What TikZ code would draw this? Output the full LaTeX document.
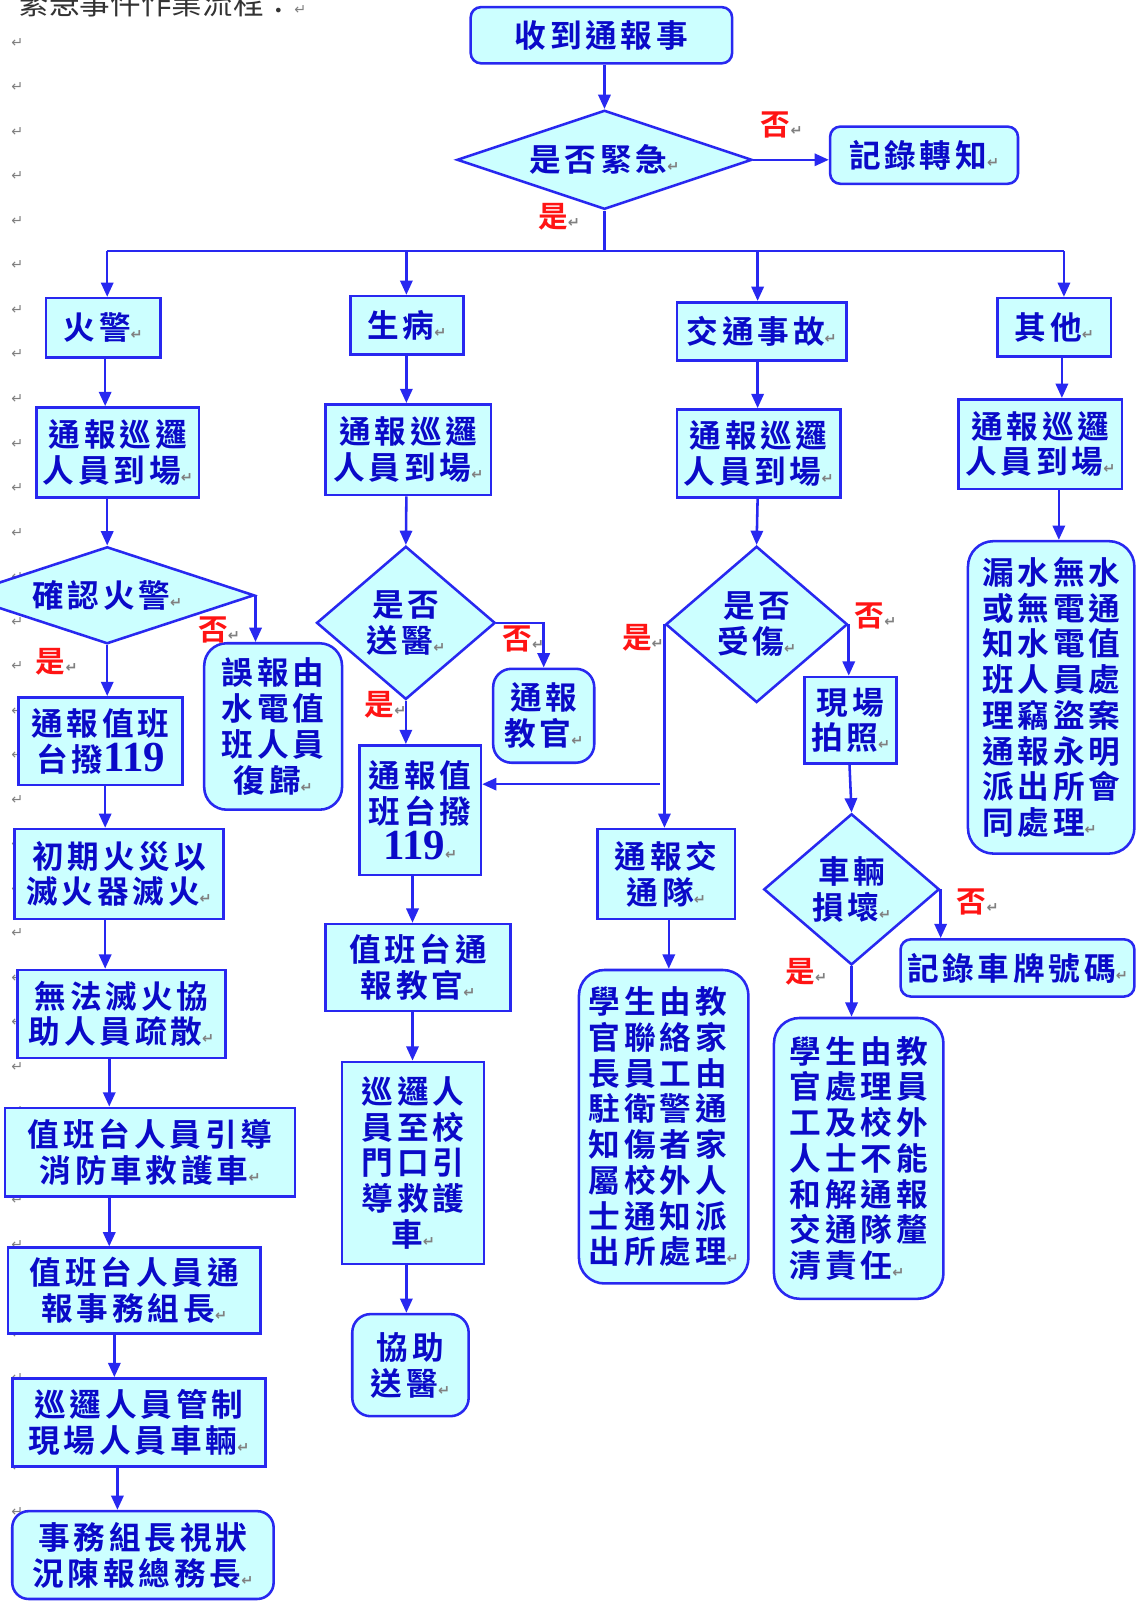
\documentclass[tikz,border=0pt]{standalone}
\usepackage{fontspec}
\usetikzlibrary{shapes.geometric,arrows.meta,calc}
\newfontfamily\cjk{Noto Sans CJK TC}[BoldFont={Noto Sans CJK TC Bold}]
\newfontfamily\cjks{Noto Sans CJK TC}[BoldFont={Noto Sans CJK TC Bold}, LetterSpace=12]
\newfontfamily\tnr{Liberation Serif}
\newfontfamily\dejavu{DejaVu Sans}
\definecolor{bfill}{RGB}{204,255,255}
\definecolor{bline}{RGB}{40,40,240}
\definecolor{tblue}{RGB}{10,10,200}
\definecolor{lred}{RGB}{255,20,20}
\newcommand\rt{{\dejavu\fontsize{14}{14}\selectfont\color{gray}↵}}
\newcommand\nine{{\tnr\bfseries\fontsize{42}{35}\selectfont 119}}
\tikzset{
 bx/.style={draw=bline, fill=bfill, line width=2.5pt, text=tblue, inner sep=0pt, align=center,
   font=\cjks\bfseries\fontsize{31}{35}\selectfont},
 rbx/.style={bx, rounded corners=#1},
 dia/.style={bx, diamond, aspect=#1},
 arr/.style={draw=bline, line width=2.5pt, -{Triangle[length=14pt,width=12pt]}},
 ln/.style={draw=bline, line width=2.5pt},
 yn/.style={text=lred, font=\cjk\bfseries\fontsize{29}{29}\selectfont, inner sep=0pt, anchor=west},
 retm/.style={inner sep=0pt, font=\dejavu\fontsize{14}{14}\selectfont, text=gray},
}
\begin{document}
\begin{tikzpicture}[x=1pt,y=-1pt]
\fill[white] (0,0) rectangle (1113,1568);
\useasboundingbox (0,0) rectangle (1113,1568);
% heading (cut off at the top)
\node[inner sep=0pt, anchor=base west, text=black!80, font=\cjk\fontsize{30}{30}\selectfont] (head) at (18,14) {緊急事件作業流程：\rt};
% paragraph marks in the margin
\foreach \i in {0,...,34} \node[retm] (m\i) at (17,42+43.6*\i) {↵};
% column x positions
\foreach \x in {103,105,107,112,115,398,404,655,742,832,836,1037,1040} \coordinate (k\x) at (\x,0);

% top
\node[rbx=10, minimum width=256pt, minimum height=55pt] (start) at (589,34.5) {收到通報事};
\node[dia=2.98, minimum width=289pt, minimum height=97pt] (dEm) at (592,156.5) {是否緊急\rt};
\node[rbx=10, minimum width=184pt, minimum height=56pt] (record) at (905,152) {記錄轉知\rt};
\node[yn] (n0) at (745,122) {否\rt};
\node[yn] (y0) at (527,212) {是\rt};

% headers
\node[bx, minimum width=112pt, minimum height=58pt] (fire) at (101,321) {火警\rt};
\node[bx, minimum width=111pt, minimum height=57pt] (sick) at (398.5,318.5) {生病\rt};
\node[bx, minimum width=166pt, minimum height=57pt] (traffic) at (746,324.5) {交通事故\rt};
\node[bx, minimum width=111pt, minimum height=57pt] (other) at (1032.5,320.5) {其他\rt};

\node[bx, minimum width=159pt, minimum height=88pt] (r1) at (115.5,443) {通報巡邏\\人員到場\rt};
\node[bx, minimum width=162pt, minimum height=89pt] (r2) at (400,440.5) {通報巡邏\\人員到場\rt};
\node[bx, minimum width=160pt, minimum height=86pt] (r3) at (743,444) {通報巡邏\\人員到場\rt};
\node[bx, minimum width=160pt, minimum height=88pt] (r4) at (1019,435) {通報巡邏\\人員到場\rt};

% column 1
\node[dia=3, minimum width=288pt, minimum height=95pt] (dFire) at (105,583) {確認火警\rt};
\node[rbx=22, minimum width=135pt, minimum height=163pt] (false) at (267.5,711.5) {誤報由\\水電值\\班人員\\復歸\rt};
\node[bx, minimum width=161pt, minimum height=86pt] (c119a) at (98.5,726) {通報值班\\台撥\nine};
\node[bx, minimum width=205pt, minimum height=88pt] (init) at (116.5,856) {初期火災以\\滅火器滅火\rt};
\node[bx, minimum width=204pt, minimum height=86pt] (evac) at (119,993) {無法滅火協\\助人員疏散\rt};
\node[bx, minimum width=284pt, minimum height=87pt] (guide) at (147,1128.5) {值班台人員引導\\消防車救護車\rt};
\node[bx, minimum width=247pt, minimum height=84pt] (notify) at (131.5,1264) {值班台人員通\\報事務組長\rt};
\node[bx, minimum width=248pt, minimum height=86pt] (control) at (136,1393) {巡邏人員管制\\現場人員車輛\rt};
\node[rbx=16, minimum width=256pt, minimum height=86pt] (report) at (140,1523) {事務組長視狀\\況陳報總務長\rt};
\node[yn] (n1) at (194,617) {否\rt};
\node[yn] (y1) at (35,648) {是\rt};

% column 2
\node[dia=1.17, minimum width=175pt, minimum height=150pt] (dSend) at (397.5,610) {是否\\送醫\rt};
\node[rbx=18, minimum width=99pt, minimum height=92pt] (inst) at (532.5,701) {通報\\教官\rt};
\node[bx, minimum width=119pt, minimum height=127pt] (c119b) at (411.5,793.5) {通報值\\班台撥\\\nine\rt};
\node[bx, minimum width=181pt, minimum height=85pt] (duty) at (409.5,947.5) {值班台通\\報教官\rt};
\node[bx, minimum width=139pt, minimum height=198pt] (patrol) at (404.5,1139) {巡邏人\\員至校\\門口引\\導救護\\車\rt};
\node[rbx=18, minimum width=114pt, minimum height=100pt] (assist) at (402,1337) {協助\\送醫\rt};
\node[yn] (n2) at (492,626) {否\rt};
\node[yn] (y2) at (357,690) {是\rt};

% column 3
\node[dia=1.16, minimum width=178pt, minimum height=153pt] (dInj) at (741,611.5) {是否\\受傷\rt};
\node[bx, minimum width=90pt, minimum height=85pt] (photo) at (833,705.5) {現場\\拍照\rt};
\node[dia=1.16, minimum width=172pt, minimum height=148pt] (dVeh) at (834,871) {車輛\\損壞\rt};
\node[rbx=10, minimum width=229pt, minimum height=56pt] (plate) at (996.5,948) {記錄車牌號碼\rt};
\node[bx, minimum width=135pt, minimum height=88pt] (police) at (652.5,856) {通報交\\通隊\rt};
\node[rbx=25, minimum width=166pt, minimum height=307pt, align=left] (studA) at (650,1103.5)
  {學生由教\\官聯絡家\\長員工由\\駐衛警通\\知傷者家\\屬校外人\\士通知派\\出所處理\rt};
\node[rbx=25, minimum width=166pt, minimum height=275pt, align=left] (studB) at (841,1134.5)
  {學生由教\\官處理員\\工及校外\\人士不能\\和解通報\\交通隊釐\\清責任\rt};
\node[yn] (y3) at (609,625) {是\rt};
\node[yn] (n3) at (837,603) {否\rt};
\node[yn] (n4) at (937,883) {否\rt};
\node[yn] (y4) at (769,952) {是\rt};

% column 4
\node[rbx=25, minimum width=163pt, minimum height=306pt, align=left] (leak) at (1029.5,683)
  {漏水無水\\或無電通\\知水電值\\班人員處\\理竊盜案\\通報永明\\派出所會\\同處理\rt};

% connectors: top
\draw[arr] (start.south -| dEm.north) -- (dEm.north);
\draw[arr] (dEm.east) -- (dEm.east -| record.west);
\coordinate (b1) at (105,246);
\coordinate (b2) at (398,246);
\coordinate (b3) at (742,246);
\coordinate (b4) at (1042,246);
\draw[ln] (dEm.south) -- (dEm.south |- b1);
\draw[ln] (b1) -- (b4);
\draw[arr] (b1) -- (b1 |- fire.north);
\draw[arr] (b2) -- (b2 |- sick.north);
\draw[arr] (b3) -- (b3 |- traffic.north);
\draw[arr] (b4) -- (b4 |- other.north);

% column 1
\draw[arr] (fire.south -| k103) -- (r1.north -| k103);
\draw[arr] (r1.south -| k105) -- (dFire.north);
\draw[arr] (dFire.south) -- (dFire.south |- c119a.north);
\draw[arr] (dFire.east) -- (dFire.east |- false.north);
\draw[arr] (c119a.south -| k103) -- (init.north -| k103);
\draw[arr] (init.south -| k103) -- (evac.north -| k103);
\draw[arr] (evac.south -| k107) -- (guide.north -| k107);
\draw[arr] (guide.south -| k107) -- (notify.north -| k107);
\draw[arr] (notify.south -| k112) -- (control.north -| k112);
\draw[arr] (control.south -| k115) -- (report.north -| k115);

% column 2
\draw[arr] (sick.south -| k398) -- (r2.north -| k398);
\draw[arr] (r2.south -| k398) -- (dSend.north);
\draw[arr] (dSend.south) -- (dSend.south |- c119b.north);
\draw[arr] (dSend.east) -| (inst.north);
\draw[arr] (c119b.south -| k404) -- (duty.north -| k404);
\draw[arr] (duty.south -| k404) -- (patrol.north -| k404);
\draw[arr] (patrol.south -| k398) -- (assist.north -| k398);

% column 3
\draw[arr] (traffic.south -| k742) -- (r3.north -| k742);
\draw[arr] (r3.south -| k742) -- (dInj.north);
\draw[arr] (dInj.west) -- (dInj.west |- police.north);
\coordinate (br) at (646,768);
\draw[arr] (br) -- (br -| c119b.east);
\draw[arr] (dInj.east) -- (dInj.east |- photo.north);
\draw[arr] (photo.south -| k832) -- (dVeh.north);
\draw[arr] (dVeh.east) -- (dVeh.east |- plate.north);
\draw[arr] (dVeh.south) -- (dVeh.south |- studB.north);
\draw[arr] (police.south -| k655) -- (studA.north -| k655);

% column 4
\draw[arr] (other.south -| k1040) -- (r4.north -| k1040);
\draw[arr] (r4.south -| k1037) -- (leak.north -| k1037);
\end{tikzpicture}
\end{document}
